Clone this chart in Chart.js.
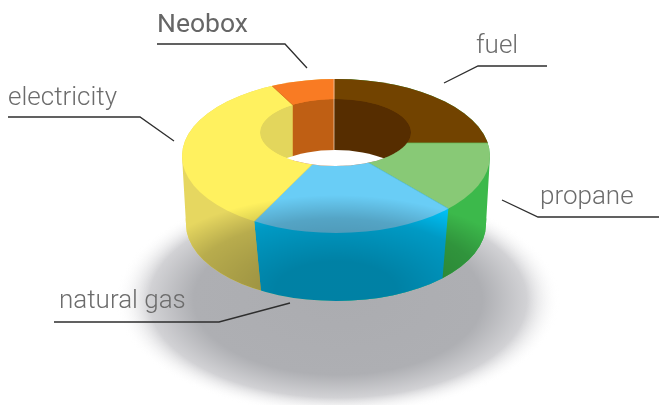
<!DOCTYPE html>
<html>
<head>
<meta charset="utf-8">
<title>Neobox</title>
<script src="https://cdn.jsdelivr.net/npm/chart.js@4"></script>
<style>
  html, body { margin: 0; padding: 0; background: #fff; }
  #wrap { width: 659px; height: 405px; }
</style>
</head>
<body>
<div id="wrap"><canvas id="donut" width="659" height="405"></canvas></div>
<script>
// Data, clockwise from 12 o'clock (shares in %)
const categories = ['fuel', 'propane', 'natural gas', 'electricity', 'Neobox'];
const shares = [25, 13.6, 18.9, 34.6, 7.9];

// Colours per slice
const topColors = ['#724300', '#88c976', '#69cdf6', '#fff15f', '#f97b23'];
const seamColors = ['#6a3e00', '#66bb55', '#5cc0e8', '#efe05a', '#d8691c'];
const wallColors = ['#724300', '#3cb94b', '#00c0f5', '#e6d760', '#f97b23'];
const innerColors = ['#562d00', '#88c976', '#69cdf6', '#e3d65c', '#bf5f14'];

// Fake 3D: the top face and floor are ellipses that do not share a centre
const squash = 0.5;
const topHub = { x: 334, y: 143 };
const floorHub = { x: 336, y: 217 };
const topEdge = { x: 336, y: 156, rx: 154, ry: 77 };
const floorEdge = { x: 336, y: 224, rx: 150, ry: 77 };
const holeTop = { x: 335.5, y: 132.5, rx: 75.5, ry: 33.5 };
const holeFloor = { x: 335, y: 182, rx: 72, ry: 32 };

// Leader lines and text
const callouts = [
  { name: 'fuel', x: 476, y: 53, line: [[547, 66], [478, 66], [444, 83]] },
  { name: 'propane', x: 540, y: 204, line: [[659, 217], [538, 217], [502, 200]] },
  { name: 'natural gas', x: 59, y: 308, line: [[54, 322], [219, 322], [290, 303]] },
  { name: 'electricity', x: 8, y: 105, line: [[8, 117], [140, 117], [174, 141]] },
  { name: 'Neobox', x: 157, y: 32, line: [[157, 44], [285, 44], [307, 68]], strong: true }
];

function ellipsePath(ctx, e) {
  ctx.moveTo(e.x + e.rx, e.y);
  ctx.ellipse(e.x, e.y, e.rx, e.ry, 0, 0, Math.PI * 2);
}

// where a ray from the hub at this slice angle meets an ellipse
function onEllipse(hub, angle, e) {
  const dx = Math.cos(angle), dy = Math.sin(angle) * squash;
  const px = (hub.x - e.x) / e.rx, py = (hub.y - e.y) / e.ry;
  const qx = dx / e.rx, qy = dy / e.ry;
  const a = qx * qx + qy * qy;
  const b = 2 * (px * qx + py * qy);
  const c = px * px + py * py - 1;
  const t = (-b + Math.sqrt(b * b - 4 * a * c)) / (2 * a);
  return { x: hub.x + dx * t, y: hub.y + dy * t };
}

function silhouette(ctx) {
  ctx.beginPath();
  ellipsePath(ctx, topEdge);
  ellipsePath(ctx, floorEdge);
  ctx.moveTo(topEdge.x + topEdge.rx, topEdge.y);
  ctx.lineTo(floorEdge.x + floorEdge.rx, floorEdge.y);
  ctx.lineTo(floorEdge.x - floorEdge.rx, floorEdge.y);
  ctx.lineTo(topEdge.x - topEdge.rx, topEdge.y);
  ctx.closePath();
}

function drawShadow(ctx) {
  ctx.save();
  ctx.translate(338, 300);
  ctx.scale(1, 115 / 222);
  const g = ctx.createRadialGradient(0, 0, 0, 0, 0, 222);
  g.addColorStop(0, '#abacb0');
  g.addColorStop(0.65, '#aeafb3');
  g.addColorStop(0.85, '#d2d2d5');
  g.addColorStop(1, 'rgba(255,255,255,0)');
  ctx.fillStyle = g;
  ctx.beginPath();
  ctx.arc(0, 0, 222, 0, Math.PI * 2);
  ctx.fill();
  ctx.restore();
}

function sliceAt(arcs, angle) {
  const i = arcs.findIndex(a => angle >= a.startAngle && angle < a.endAngle);
  return i < 0 ? 0 : i;
}

function drawWalls(ctx, arcs) {
  ctx.save();
  silhouette(ctx);
  ctx.clip();
  ctx.fillStyle = wallColors[sliceAt(arcs, Math.PI)];
  ctx.fillRect(0, 0, topEdge.x, 405);
  ctx.fillStyle = wallColors[sliceAt(arcs, 0.001)];
  ctx.fillRect(topEdge.x, 0, 659, 405);
  // only the front half of the ring shows a wall
  arcs.forEach((arc, i) => {
    const from = Math.max(arc.startAngle, 0), to = Math.min(arc.endAngle, Math.PI);
    if (to <= from) return;
    const a0 = onEllipse(topHub, from, topEdge), a1 = onEllipse(topHub, to, topEdge);
    const b0 = onEllipse(floorHub, from, floorEdge), b1 = onEllipse(floorHub, to, floorEdge);
    ctx.fillStyle = wallColors[i];
    ctx.beginPath();
    ctx.moveTo(a0.x, a0.y);
    ctx.lineTo(b0.x, b0.y);
    ctx.lineTo(b0.x + (b0.x - topEdge.x), b0.y + 200);
    ctx.lineTo(b1.x + (b1.x - topEdge.x), b1.y + 200);
    ctx.lineTo(b1.x, b1.y);
    ctx.lineTo(a1.x, a1.y);
    ctx.closePath();
    ctx.fill();
  });
  ctx.restore();
}

function drawHole(ctx, arcs) {
  ctx.save();
  ctx.beginPath();
  ellipsePath(ctx, holeTop);
  ctx.clip();
  arcs.forEach((arc, i) => {
    ctx.fillStyle = innerColors[i];
    ctx.beginPath();
    const steps = 40;
    const pts = [];
    for (let s = 0; s <= steps; s++) {
      pts.push(onEllipse(topHub, arc.startAngle + (arc.endAngle - arc.startAngle) * s / steps, holeTop));
    }
    pts.forEach((p, n) => (n ? ctx.lineTo(p.x, p.y) : ctx.moveTo(p.x, p.y)));
    pts.reverse().forEach(p => ctx.lineTo(p.x, p.y + 90));
    ctx.closePath();
    ctx.fill();
  });
  // floor of the hole is open
  ctx.fillStyle = '#fff';
  ctx.beginPath();
  ellipsePath(ctx, holeFloor);
  ctx.fill();
  ctx.restore();
}

function drawGloss(ctx) {
  // soft dark pool over the lower part of the ring
  ctx.save();
  silhouette(ctx);
  ctx.clip();
  ctx.translate(336, 290);
  ctx.scale(1, 95 / 200);
  const g = ctx.createRadialGradient(0, 0, 0, 0, 0, 200);
  g.addColorStop(0, 'rgba(0,0,0,0.33)');
  g.addColorStop(0.3, 'rgba(0,0,0,0.33)');
  g.addColorStop(0.75, 'rgba(0,0,0,0.2)');
  g.addColorStop(1, 'rgba(0,0,0,0)');
  ctx.fillStyle = g;
  ctx.beginPath();
  ctx.arc(0, 0, 200, 0, Math.PI * 2);
  ctx.fill();
  ctx.restore();
}

function drawCallouts(ctx) {
  ctx.save();
  callouts.forEach(c => {
    ctx.strokeStyle = '#2e2e2e';
    ctx.lineWidth = 1.3;
    ctx.beginPath();
    c.line.forEach((p, n) => (n ? ctx.lineTo(p[0], p[1]) : ctx.moveTo(p[0], p[1])));
    ctx.stroke();
    ctx.font = c.strong ? '400 26.5px Roboto, sans-serif' : '300 26px Roboto, sans-serif';
    ctx.fillStyle = c.strong ? '#666' : '#6c6c6c';
    ctx.textBaseline = 'alphabetic';
    ctx.fillText(c.name, c.x, c.y);
  });
  ctx.restore();
}

const ring3d = {
  id: 'ring3d',
  beforeDatasetsDraw(chart) {
    const ctx = chart.ctx;
    const arcs = chart.getDatasetMeta(0).data;
    drawShadow(ctx);
    drawWalls(ctx, arcs);
    // library arcs become the top face: flatten them and trim to the ring
    const cx = arcs[0].x, cy = arcs[0].y;
    ctx.save();
    ctx.beginPath();
    ellipsePath(ctx, topEdge);
    ctx.clip();
    ctx.translate(topHub.x, topHub.y);
    ctx.scale(1, squash);
    ctx.translate(-cx, -cy);
  },
  afterDatasetsDraw(chart) {
    const ctx = chart.ctx;
    const arcs = chart.getDatasetMeta(0).data;
    ctx.restore();
    drawHole(ctx, arcs);
    // light seam where the first slice starts
    const seam = onEllipse(topHub, arcs[0].startAngle, topEdge);
    ctx.strokeStyle = 'rgba(255,235,215,0.65)';
    ctx.lineWidth = 1;
    ctx.beginPath();
    ctx.moveTo(seam.x, seam.y);
    ctx.lineTo(seam.x, holeFloor.y - holeFloor.ry);
    ctx.stroke();
    drawGloss(ctx);
    drawCallouts(ctx);
  }
};

new Chart(document.getElementById('donut').getContext('2d'), {
  type: 'doughnut',
  data: {
    labels: categories,
    datasets: [{
      data: shares,
      backgroundColor: topColors,
      borderColor: seamColors,
      borderWidth: 1
    }]
  },
  options: {
    responsive: false,
    animation: false,
    cutout: 40,
    layout: { padding: 0 },
    plugins: {
      legend: { display: false },
      title: { display: false },
      tooltip: { enabled: false }
    }
  },
  plugins: [ring3d]
});
</script>
</body>
</html>
